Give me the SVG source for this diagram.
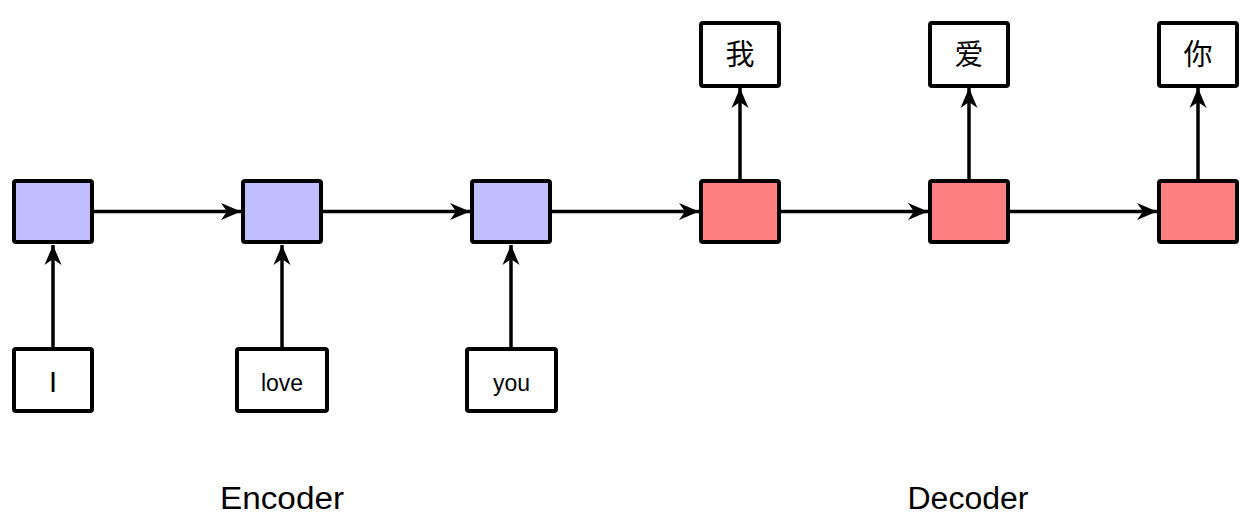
<svg xmlns="http://www.w3.org/2000/svg" width="1259" height="524" viewBox="0 0 1259 524">
<style>
.box{stroke:#000;stroke-width:4;}
.enc{fill:#BFBFFF;}
.dec{fill:#FF8080;}
.io{fill:#fff;}
.conn{stroke:#000;stroke-width:3.5;fill:none;marker-end:url(#ah);}
.lbl{font-family:"Liberation Sans",Arial,sans-serif;fill:#000;text-anchor:middle;}
.cjk{font-family:"Noto Sans CJK SC","Noto Sans CJK JP",sans-serif;fill:#000;text-anchor:middle;}
</style>
<defs>
<marker id="ah" markerUnits="userSpaceOnUse" viewBox="-21 -9 22 18" refX="0" refY="0" markerWidth="22" markerHeight="18" orient="auto">
<path d="M-20,-8.5 L0,0 L-20,8.5 L-14,0 Z" fill="#000"/>
</marker>
</defs>
<rect width="1259" height="524" fill="#fff"/>
<g id="connectors">
<line class="conn" x1="92" y1="211.5" x2="241" y2="211.5"/>
<line class="conn" x1="321" y1="211.5" x2="470" y2="211.5"/>
<line class="conn" x1="550" y1="211.5" x2="699" y2="211.5"/>
<line class="conn" x1="779" y1="211.5" x2="928" y2="211.5"/>
<line class="conn" x1="1008" y1="211.5" x2="1157" y2="211.5"/>
<line class="conn" x1="53" y1="348" x2="53" y2="245"/>
<line class="conn" x1="282" y1="348" x2="282" y2="245"/>
<line class="conn" x1="511" y1="348" x2="511" y2="245"/>
<line class="conn" x1="740" y1="180" x2="740" y2="88"/>
<line class="conn" x1="969" y1="180" x2="969" y2="88"/>
<line class="conn" x1="1198" y1="180" x2="1198" y2="88"/>
</g>
<g id="enc1"><rect class="box enc" x="14" y="181" width="78" height="61" rx="2"/></g>
<g id="enc2"><rect class="box enc" x="243" y="181" width="78" height="61" rx="2"/></g>
<g id="enc3"><rect class="box enc" x="472" y="181" width="78" height="61" rx="2"/></g>
<g id="dec1"><rect class="box dec" x="701" y="181" width="78" height="61" rx="2"/></g>
<g id="dec2"><rect class="box dec" x="930" y="181" width="78" height="61" rx="2"/></g>
<g id="dec3"><rect class="box dec" x="1159" y="181" width="78" height="61" rx="2"/></g>
<g id="in1"><rect class="box io" x="14" y="349" width="78" height="62" rx="2"/><text class="lbl" x="53" y="392" font-size="29">I</text></g>
<g id="in2"><rect class="box io" x="237" y="349" width="90" height="62" rx="2"/><text class="lbl" x="282" y="391" font-size="23">love</text></g>
<g id="in3"><rect class="box io" x="467" y="349" width="89" height="62" rx="2"/><text class="lbl" x="511.5" y="391" font-size="23">you</text></g>
<g id="out1"><rect class="box io" x="701" y="23" width="78" height="63" rx="2"/><text class="cjk" x="740" y="65" font-size="29">我</text></g>
<g id="out2"><rect class="box io" x="930" y="23" width="78" height="63" rx="2"/><text class="cjk" x="969" y="65" font-size="29">爱</text></g>
<g id="out3"><rect class="box io" x="1159" y="23" width="78" height="63" rx="2"/><text class="cjk" x="1198" y="65" font-size="29">你</text></g>
<g id="labels">
<text class="lbl" x="282" y="509" font-size="31" textLength="124" lengthAdjust="spacingAndGlyphs">Encoder</text>
<text class="lbl" x="968" y="509" font-size="31" textLength="121" lengthAdjust="spacingAndGlyphs">Decoder</text>
</g>
</svg>
